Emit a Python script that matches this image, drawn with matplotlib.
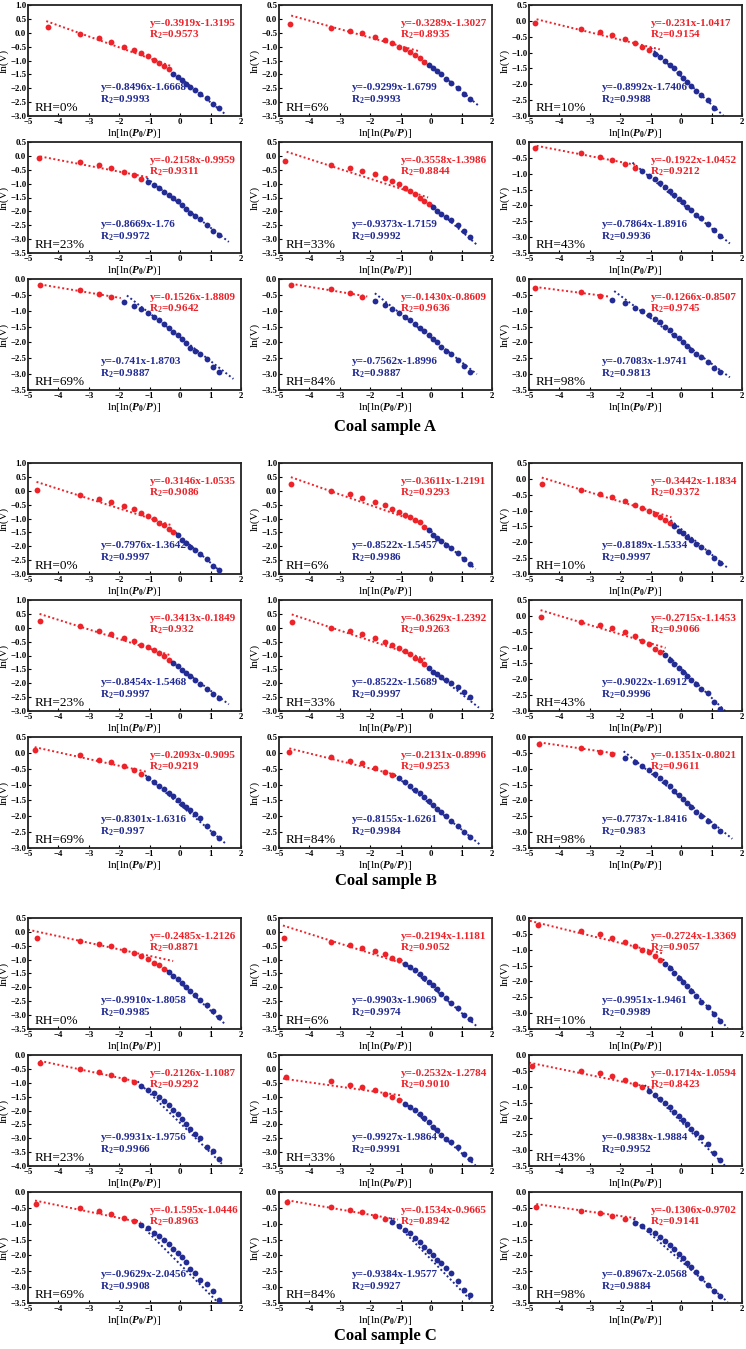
import numpy as np
import matplotlib
matplotlib.use("Agg")
import matplotlib.pyplot as plt

plt.rcParams["font.family"] = ["Liberation Serif", "DejaVu Serif"]
plt.rcParams["font.weight"] = "bold"
plt.rcParams["mathtext.fontset"] = "custom"
plt.rcParams["mathtext.rm"] = "Liberation Serif:bold"
plt.rcParams["mathtext.it"] = "Liberation Serif:italic:bold"
plt.rcParams["mathtext.bf"] = "Liberation Serif:bold"

RED = "#ee2229"
BLUE = "#232b94"

RH = ["0%", "6%", "10%", "23%", "33%", "43%", "69%", "84%", "98%"]

# shared x positions of the measurement points, ln[ln(P0/P)]
XS = [-4.6, -3.28, -2.68, -2.27, -1.86, -1.53, -1.27, -1.05, -0.86, -0.68, -0.53,
      -0.37, -0.22, -0.07, 0.07, 0.2, 0.33, 0.48, 0.65, 0.87, 1.09, 1.28]

nan = np.nan

# ---------------- Coal sample A ----------------
A_FIRST = [-4.35, -4.65, -4.8, -4.65, -4.8, -4.8, -4.6, -4.6, -4.8]
A_NRED = [12, 13, 8, 7, 14, 6, 4, 4, 3]
A_YLIM = [(-3.0, 1.0), (-3.5, 0.5), (-3.0, 0.5), (-3.5, 0.5), (-3.5, 0.5),
          (-3.5, 0.0), (-3.5, 0.0), (-3.5, 0.0), (-3.5, 0.0)]
A_Y = [
    [0.22, -0.03, -0.2, -0.33, -0.5, -0.62, -0.73, -0.85, -0.98, -1.08, -1.2, -1.32, -1.5, -1.6, -1.72, -1.85, -1.95, -2.08, -2.2, -2.35, -2.55, -2.72],
    [-0.17, -0.32, -0.42, -0.52, -0.65, -0.77, -0.88, -1.0, -1.1, -1.2, -1.3, -1.42, -1.55, -1.65, -1.78, -1.88, -2.0, -2.15, -2.3, -2.48, -2.72, -2.88],
    [-0.07, -0.25, -0.36, -0.45, -0.58, -0.7, -0.82, -0.93, -1.05, -1.15, -1.27, -1.38, -1.5, -1.65, -1.8, -1.92, -2.05, -2.2, -2.35, -2.5, -2.75, nan],
    [-0.07, -0.22, -0.33, -0.45, -0.57, -0.68, -0.82, -0.93, -1.05, -1.17, -1.3, -1.4, -1.53, -1.63, -1.78, -1.93, -2.05, -2.17, -2.28, -2.48, -2.7, -2.85],
    [-0.18, -0.33, -0.45, -0.55, -0.67, -0.8, -0.92, -1.03, -1.15, -1.27, -1.38, -1.52, -1.62, -1.72, -1.85, -1.97, -2.08, -2.2, -2.32, -2.5, -2.72, -2.92],
    [-0.18, -0.35, -0.47, -0.57, -0.7, -0.83, -0.93, -1.07, -1.17, -1.28, -1.42, -1.55, -1.68, -1.8, -1.9, -2.05, -2.15, -2.3, -2.4, -2.58, -2.77, -2.97],
    [-0.2, -0.35, -0.47, -0.58, -0.72, -0.85, -0.95, -1.07, -1.2, -1.3, -1.42, -1.55, -1.67, -1.78, -1.9, -2.03, -2.17, -2.28, -2.38, -2.53, -2.77, -2.92],
    [-0.2, -0.33, -0.45, -0.57, -0.7, -0.82, -0.95, -1.07, -1.2, -1.3, -1.42, -1.55, -1.65, -1.77, -1.88, -2.0, -2.13, -2.27, -2.38, -2.55, -2.75, -2.92],
    [-0.27, -0.42, -0.55, -0.65, -0.77, -0.9, -1.02, -1.13, -1.25, -1.37, -1.5, -1.62, -1.75, -1.87, -2.0, -2.1, -2.23, -2.35, -2.47, -2.63, -2.8, -2.92],
]
A_RED_FIT = [(-4.4, 0.42, -0.3, -1.2), (-4.6, 0.12, -0.35, -1.18), (-4.75, 0.05, -0.7, -0.9),
             (-4.6, -0.02, -1.0, -0.78), (-4.75, 0.15, -0.1, -1.5), (-4.75, -0.12, -1.5, -0.72),
             (-4.6, -0.17, -1.95, -0.6), (-4.6, -0.15, -2.1, -0.55), (-4.8, -0.25, -2.4, -0.55)]
A_BLUE_FIT = [(-0.2, -1.45, 1.5, -2.95), (-0.2, -1.5, 1.55, -3.12), (-1.0, -0.85, 1.4, -3.0),
              (-1.1, -0.8, 1.6, -3.1), (0.0, -1.75, 1.5, -3.2), (-1.6, -0.65, 1.6, -3.2),
              (-1.75, -0.52, 1.75, -3.15), (-1.85, -0.45, 1.5, -3.0), (-2.2, -0.38, 1.6, -3.1)]
A_RED_EQ = ["y=-0.3919x-1.3195", "y=-0.3289x-1.3027", "y=-0.231x-1.0417", "y=-0.2158x-0.9959",
            "y=-0.3558x-1.3986", "y=-0.1922x-1.0452", "y=-0.1526x-1.8809", "y=-0.1430x-0.8609",
            "y=-0.1266x-0.8507"]
A_RED_R = ["0.9573", "0.8935", "0.9154", "0.9311", "0.8844", "0.9212", "0.9642", "0.9636", "0.9745"]
A_BLUE_EQ = ["y=-0.8496x-1.6668", "y=-0.9299x-1.6799", "y=-0.8992x-1.7406", "y=-0.8669x-1.76",
             "y=-0.9373x-1.7159", "y=-0.7864x-1.8916", "y=-0.741x-1.8703", "y=-0.7562x-1.8996",
             "y=-0.7083x-1.9741"]
A_BLUE_R = ["0.9993", "0.9993", "0.9988", "0.9972", "0.9992", "0.9936", "0.9887", "0.9887", "0.9813"]

# ---------------- Coal sample B ----------------
B_FIRST = [-4.72, -4.61, -4.58, -4.62, -4.58, -4.62, -4.78, -4.66, -4.66]
B_NRED = [13, 13, 12, 12, 13, 10, 7, 7, 4]
B_YLIM = [(-3.0, 1.0), (-3.0, 1.0), (-3.0, 0.5), (-3.0, 1.0), (-3.0, 1.0),
          (-3.0, 0.5), (-3.0, 0.5), (-3.0, 0.5), (-3.5, 0.0)]
B_Y = [
    [0.03, -0.16, -0.29, -0.4, -0.55, -0.67, -0.8, -0.91, -1.02, -1.15, -1.24, -1.38, -1.5, -1.59, -1.77, -1.87, -2.01, -2.13, -2.28, -2.45, -2.7, -2.85],
    [0.23, -0.01, -0.13, -0.27, -0.4, -0.52, -0.64, -0.77, -0.87, -0.95, -1.07, -1.13, -1.31, -1.43, -1.58, -1.7, -1.8, -1.94, -2.07, -2.25, -2.46, -2.64],
    [-0.15, -0.34, -0.47, -0.57, -0.7, -0.81, -0.92, -1.02, -1.1, -1.21, -1.31, -1.4, -1.5, -1.63, -1.71, -1.84, -1.94, -2.05, -2.16, -2.31, -2.49, -2.66],
    [0.26, 0.05, -0.1, -0.21, -0.37, -0.46, -0.61, -0.71, -0.81, -0.92, -1.02, -1.15, -1.27, -1.39, -1.51, -1.63, -1.73, -1.87, -2.01, -2.19, -2.4, -2.52],
    [0.22, 0.0, -0.12, -0.24, -0.38, -0.5, -0.62, -0.74, -0.84, -0.96, -1.08, -1.16, -1.32, -1.46, -1.58, -1.68, -1.78, -1.88, -2.0, -2.14, -2.32, -2.5],
    [-0.04, -0.18, -0.28, -0.39, -0.52, -0.65, -0.79, -0.88, -1.03, -1.14, -1.24, -1.38, -1.51, -1.63, -1.76, -1.89, -2.03, -2.16, -2.3, -2.44, -2.71, -2.94],
    [0.08, -0.07, -0.21, -0.29, -0.42, -0.54, -0.68, -0.79, -0.92, -1.03, -1.15, -1.26, -1.37, -1.5, -1.61, -1.72, -1.81, -1.92, -2.05, -2.32, -2.52, -2.7],
    [0.04, -0.12, -0.25, -0.33, -0.47, -0.59, -0.69, -0.8, -0.92, -1.04, -1.17, -1.27, -1.4, -1.51, -1.64, -1.76, -1.88, -2.0, -2.14, -2.32, -2.51, -2.66],
    [-0.22, -0.34, -0.47, -0.53, -0.67, -0.8, -0.92, -1.05, -1.18, -1.3, -1.43, -1.56, -1.7, -1.83, -1.97, -2.08, -2.22, -2.36, -2.5, -2.65, -2.8, -2.95],
]
B_RED_FIT = [(-4.72, 0.32, -0.32, -1.23), (-4.61, 0.49, -0.31, -1.17), (-4.58, 0.04, -0.32, -1.21),
             (-4.62, 0.5, -0.32, -0.99), (-4.58, 0.48, -0.15, -1.14), (-4.62, 0.18, -0.51, -1.01),
             (-4.78, 0.18, -1.09, -0.6), (-4.66, 0.14, -1.17, -0.69), (-4.66, -0.17, -2.16, -0.52)]
B_BLUE_FIT = [(-0.15, -1.5, 1.4, -2.98), (-0.23, -1.25, 1.46, -2.82), (-0.35, -1.3, 1.53, -2.81),
              (-0.3, -1.2, 1.6, -2.76), (-0.2, -1.35, 1.57, -2.88), (-0.6, -1.1, 1.45, -3.0),
              (-1.15, -0.7, 1.53, -2.89), (-1.2, -0.7, 1.6, -2.89), (-1.89, -0.45, 1.68, -3.21)]
B_RED_EQ = ["y=-0.3146x-1.0535", "y=-0.3611x-1.2191", "y=-0.3442x-1.1834", "y=-0.3413x-0.1849",
            "y=-0.3629x-1.2392", "y=-0.2715x-1.1453", "y=-0.2093x-0.9095", "y=-0.2131x-0.8996",
            "y=-0.1351x-0.8021"]
B_RED_R = ["0.9086", "0.9293", "0.9372", "0.932", "0.9263", "0.9066", "0.9219", "0.9253", "0.9611"]
B_BLUE_EQ = ["y=-0.7976x-1.3642", "y=-0.8522x-1.5457", "y=-0.8189x-1.5334", "y=-0.8454x-1.5468",
             "y=-0.8522x-1.5689", "y=-0.9022x-1.6912", "y=-0.8301x-1.6316", "y=-0.8155x-1.6261",
             "y=-0.7737x-1.8416"]
B_BLUE_R = ["0.9997", "0.9986", "0.9997", "0.9997", "0.9997", "0.9996", "0.997", "0.9984", "0.983"]

# ---------------- Coal sample C ----------------
C_FIRST = [-4.7, -4.84, -4.69, -4.61, -4.77, -4.89, -4.73, -4.73, -4.76]
C_NRED = [11, 8, 10, 6, 8, 7, 6, 6, 5]
C_YLIM = [(-3.5, 0.5), (-3.5, 0.5), (-3.5, 0.0), (-4.0, 0.0), (-3.5, 0.5),
          (-3.5, 0.0), (-3.5, 0.0), (-3.5, 0.0), (-3.5, 0.0)]
C_Y = [
    [-0.23, -0.33, -0.44, -0.52, -0.64, -0.76, -0.87, -0.99, -1.11, -1.2, -1.32, -1.46, -1.58, -1.7, -1.83, -1.98, -2.12, -2.27, -2.45, -2.63, -2.85, -3.05],
    [-0.21, -0.37, -0.46, -0.57, -0.69, -0.8, -0.93, -1.02, -1.14, -1.27, -1.38, -1.51, -1.65, -1.8, -1.92, -2.06, -2.25, -2.39, -2.57, -2.75, -2.99, -3.14],
    [-0.23, -0.41, -0.49, -0.62, -0.75, -0.88, -1.0, -1.08, -1.21, -1.34, -1.45, -1.59, -1.72, -1.88, -2.02, -2.15, -2.29, -2.45, -2.64, -2.82, -3.04, -3.25],
    [-0.3, -0.5, -0.61, -0.72, -0.85, -0.99, -1.13, -1.25, -1.37, -1.52, -1.66, -1.8, -1.98, -2.14, -2.31, -2.49, -2.66, -2.85, -3.0, -3.3, -3.47, -3.74],
    [-0.31, -0.45, -0.57, -0.65, -0.77, -0.89, -1.01, -1.11, -1.26, -1.38, -1.49, -1.64, -1.78, -1.93, -2.08, -2.21, -2.37, -2.53, -2.65, -2.82, -3.06, -3.24],
    [-0.35, -0.49, -0.56, -0.65, -0.78, -0.9, -1.0, -1.12, -1.25, -1.38, -1.52, -1.65, -1.8, -1.93, -2.06, -2.18, -2.32, -2.46, -2.6, -2.8, -3.1, -3.3],
    [-0.38, -0.51, -0.6, -0.68, -0.83, -0.92, -1.05, -1.15, -1.28, -1.4, -1.5, -1.65, -1.79, -1.93, -2.06, -2.22, -2.43, -2.54, -2.78, -2.91, -3.13, -3.39],
    [-0.32, -0.48, -0.56, -0.62, -0.77, -0.85, -0.96, -1.06, -1.19, -1.3, -1.45, -1.58, -1.72, -1.85, -2.0, -2.13, -2.24, -2.4, -2.55, -2.8, -3.08, -3.26],
    [-0.47, -0.59, -0.67, -0.77, -0.85, -0.98, -1.08, -1.19, -1.3, -1.42, -1.53, -1.66, -1.79, -1.94, -2.08, -2.23, -2.38, -2.51, -2.7, -2.93, -3.12, -3.29],
]
C_RED_FIT = [(-5.0, 0.08, -0.23, -1.05), (-4.87, 0.23, -0.93, -1.14), (-4.97, -0.09, -0.63, -1.11),
             (-4.61, -0.21, -1.45, -0.95), (-4.87, -0.35, -1.02, -0.95), (-5.0, -0.24, -0.82, -1.06),
             (-4.77, -0.27, -1.29, -0.96), (-4.73, -0.26, -1.09, -0.87), (-4.76, -0.38, -1.46, -0.83)]
C_BLUE_FIT = [(-0.43, -1.38, 1.5, -3.35), (-1.0, -1.0, 1.54, -3.44), (-0.6, -1.3, 1.53, -3.47),
              (-1.4, -0.95, 1.37, -3.92), (-1.0, -1.1, 1.46, -3.48), (-1.2, -0.95, 1.45, -3.5),
              (-1.45, -0.88, 1.26, -3.5), (-1.33, -0.82, 1.34, -3.45), (-1.57, -0.85, 1.53, -3.47)]
C_RED_EQ = ["y=-0.2485x-1.2126", "y=-0.2194x-1.1181", "y=-0.2724x-1.3369", "y=-0.2126x-1.1087",
            "y=-0.2532x-1.2784", "y=-0.1714x-1.0594", "y=-0.1.595x-1.0446", "y=-0.1534x-0.9665",
            "y=-0.1306x-0.9702"]
C_RED_R = ["0.8871", "0.9052", "0.9057", "0.9292", "0.9010", "0.8423", "0.8963", "0.8942", "0.9141"]
C_BLUE_EQ = ["y=-0.9910x-1.8058", "y=-0.9903x-1.9069", "y=-0.9951x-1.9461", "y=-0.9931x-1.9756",
             "y=-0.9927x-1.9864", "y=-0.9838x-1.9884", "y=-0.9629x-2.0456", "y=-0.9384x-1.9577",
             "y=-0.8967x-2.0568"]
C_BLUE_R = ["0.9985", "0.9974", "0.9989", "0.9966", "0.9991", "0.9952", "0.9908", "0.9927", "0.9884"]

# ---------------- layout (pixels) ----------------
W, H = 746, 1349
COL_LEFT = [28, 279, 529]
ROW_TOP = [5, 142, 279]
GROUP_OFF = [0, 458, 913]
AX_W, AX_H = 213, 111
TITLE_Y = [427, 881, 1336]

fig = plt.figure(figsize=(W / 100, H / 100), dpi=100)


def draw_group(g, first, nred, ylims, ys, red_fit, blue_fit, red_eq, red_r, blue_eq, blue_r, title):
    for k in range(9):
        r, c = divmod(k, 3)
        top = ROW_TOP[r] + GROUP_OFF[g]
        ax = fig.add_axes([COL_LEFT[c] / W, 1 - (top + AX_H) / H, AX_W / W, AX_H / H])

        x = np.array(XS, dtype=float)
        x[0] = first[k]
        y = np.array(ys[k], dtype=float)
        n = nred[k]

        rf = red_fit[k]
        bf = blue_fit[k]
        ax.plot([rf[0], rf[2]], [rf[1], rf[3]], color=RED, ls=(0, (1, 1.3)), lw=1.4, zorder=2)
        ax.plot([bf[0], bf[2]], [bf[1], bf[3]], color=BLUE, ls=(0, (1, 1.3)), lw=1.4, zorder=2)
        ax.plot(x[:n], y[:n], "o", color=RED, ms=4.2, mew=0, zorder=3)
        ax.plot(x[n:], y[n:], "o", color=BLUE, ms=4.2, mew=0, zorder=3)

        lo, hi = ylims[k]
        ax.set_xlim(-5, 2)
        ax.set_ylim(lo, hi)
        ax.set_xticks(range(-5, 3))
        ax.set_yticks(np.arange(lo, hi + 0.01, 0.5))
        ax.yaxis.set_major_formatter("{x:.1f}")
        ax.tick_params(direction="in", length=2.5, width=0.8, labelsize=6.3, pad=1.2)
        for s in ax.spines.values():
            s.set_linewidth(1.3)
            s.set_color("#222222")

        ax.set_ylabel("ln(V)", fontsize=8)
        ax.yaxis.set_label_coords(-0.09, 0.5)
        ax.set_xlabel(r"ln[ln($\mathit{P}_\mathrm{0}$/$\mathit{P}$)]", fontsize=8, labelpad=0.5)

        ax.text(0.57, 0.835, red_eq[k], color=RED, fontsize=8, transform=ax.transAxes, va="center")
        ax.text(0.57, 0.73, r"R$_\mathrm{2}$=" + red_r[k], color=RED, fontsize=8,
                transform=ax.transAxes, va="center")
        ax.text(0.34, 0.255, blue_eq[k], color=BLUE, fontsize=8, transform=ax.transAxes, va="center")
        ax.text(0.34, 0.15, r"R$_\mathrm{2}$=" + blue_r[k], color=BLUE, fontsize=8,
                transform=ax.transAxes, va="center")
        ax.text(0.03, 0.075, "RH=" + RH[k], fontsize=9.5, fontweight="normal",
                transform=ax.transAxes, va="center")

    fig.text((COL_LEFT[1] + AX_W / 2) / W, 1 - TITLE_Y[g] / H, title,
             ha="center", va="center", fontsize=12, fontweight="bold")


draw_group(0, A_FIRST, A_NRED, A_YLIM, A_Y, A_RED_FIT, A_BLUE_FIT,
           A_RED_EQ, A_RED_R, A_BLUE_EQ, A_BLUE_R, "Coal sample A")
draw_group(1, B_FIRST, B_NRED, B_YLIM, B_Y, B_RED_FIT, B_BLUE_FIT,
           B_RED_EQ, B_RED_R, B_BLUE_EQ, B_BLUE_R, "Coal sample B")
draw_group(2, C_FIRST, C_NRED, C_YLIM, C_Y, C_RED_FIT, C_BLUE_FIT,
           C_RED_EQ, C_RED_R, C_BLUE_EQ, C_BLUE_R, "Coal sample C")

fig.savefig("out.png", dpi=100)
